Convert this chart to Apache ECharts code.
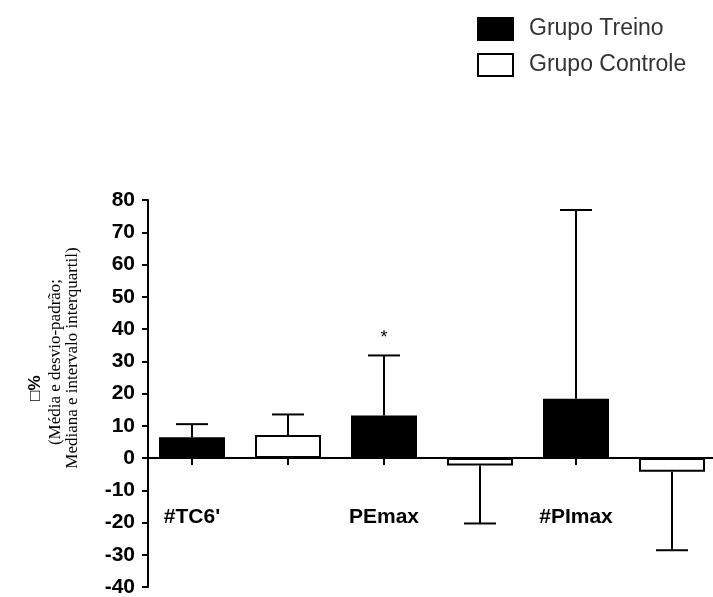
<!DOCTYPE html>
<html>
<head>
<meta charset="utf-8">
<script src="https://cdn.jsdelivr.net/npm/echarts@6/dist/echarts.min.js"></script>
<style>
  html, body { margin: 0; padding: 0; background: #fff; }
  #chart { width: 713px; height: 597px; }
</style>
</head>
<body>
<div id="chart"></div>
<script>
    // categorias (uma barra por posição)
    var categories = ["#TC6'", '', 'PEmax', '', '#PImax', ''];
    // médias / medianas
    var treino   = [6.4, '-', 13.2, '-', 18.4, '-'];
    var controle = ['-', 7.1, '-', -2.3, '-', -4.3];
    // fim das barras de erro
    var treinoErr   = [10.5, null, 31.8, null, 76.9, null];
    var controleErr = [null, 13.5, null, -20.3, null, -28.6];
    var signif = ['', '', '*', '', '', ''];
    var yTicks = { min: -40, max: 80, interval: 10 };

    function errData(means, ends) {
        var out = [];
        for (var i = 0; i < means.length; i++) {
            if (ends[i] === null) continue;
            out.push([i, means[i], ends[i]]);
        }
        return out;
    }

    function errRender(params, api) {
        var i = api.value(0);
        var p0 = api.coord([i, api.value(1)]);
        var p1 = api.coord([i, api.value(2)]);
        var half = 16;
        var star = signif[i];
        var kids = [
            { type: 'line', shape: { x1: p0[0], y1: p0[1], x2: p1[0], y2: p1[1] },
              style: { stroke: '#000', lineWidth: 2 } },
            { type: 'line', shape: { x1: p1[0] - half, y1: p1[1], x2: p1[0] + half, y2: p1[1] },
              style: { stroke: '#000', lineWidth: 2 } }
        ];
        if (star) {
            kids.push({ type: 'text', x: p1[0], y: p1[1] - 17,
                style: { text: star, fill: '#000', font: '18px "Liberation Sans", Arial',
                         align: 'center', verticalAlign: 'middle' } });
        }
        return { type: 'group', children: kids };
    }

    var serif = '17px "Liberation Serif", "Times New Roman", serif';
    var gridTop = 200, gridH = 387;
    // desloca o eixo x para a linha do zero (ticks e rótulos acompanham)
    var zeroOffset = -gridH * (0 - yTicks.min) / (yTicks.max - yTicks.min);

    var myChart = echarts.init(document.getElementById('chart'));
    myChart.setOption({
        animation: false,
        backgroundColor: '#fff',
        grid: { left: 144, top: gridTop, width: 576, height: gridH, outerBoundsMode: 'none' },
        legend: {
            data: ['Grupo Treino', 'Grupo Controle'],
            orient: 'vertical',
            left: 472, top: 12,
            itemWidth: 35, itemHeight: 22, itemGap: 12,
            icon: 'rect',
            textStyle: { fontSize: 23, color: '#333', padding: [0, 0, 0, 11],
                         fontFamily: '"Liberation Sans", Arial' }
        },
        graphic: [
            { type: 'text', x: 35, y: 388, rotation: Math.PI / 2,
              style: { text: '□%', font: 'bold 17px "Liberation Sans", Arial', fill: '#000',
                       align: 'center', verticalAlign: 'middle' } },
            { type: 'text', x: 56, y: 362, rotation: Math.PI / 2,
              style: { text: '(Média e desvio-padrão;', font: serif, fill: '#000',
                       align: 'center', verticalAlign: 'middle' } },
            { type: 'text', x: 73, y: 358, rotation: Math.PI / 2,
              style: { text: 'Mediana e intervalo interquartil)', font: serif, fill: '#000',
                       align: 'center', verticalAlign: 'middle' } }
        ],
        xAxis: {
            type: 'category',
            data: categories,
            position: 'bottom',
            offset: zeroOffset,
            axisLine: { onZero: false, lineStyle: { color: '#000', width: 2 } },
            axisTick: { show: true, alignWithLabel: true, interval: 0, length: 7,
                        lineStyle: { color: '#000', width: 2 } },
            axisLabel: { interval: 0, margin: 49, color: '#000', fontSize: 21, fontWeight: 'bold',
                         fontFamily: '"Liberation Sans", Arial' },
            splitLine: { show: false }
        },
        yAxis: {
            type: 'value',
            min: yTicks.min, max: yTicks.max, interval: yTicks.interval,
            offset: -4,
            axisLine: { show: true, lineStyle: { color: '#000', width: 2 } },
            axisTick: { show: true, length: 6, lineStyle: { color: '#000', width: 2 } },
            axisLabel: { margin: 13, color: '#000', fontSize: 21, fontWeight: 'bold',
                         fontFamily: '"Liberation Sans", Arial' },
            splitLine: { show: false }
        },
        series: [
            {
                name: 'Grupo Treino', type: 'bar', data: treino,
                barWidth: 66, barGap: '-100%',
                itemStyle: { color: '#000', borderColor: '#000', borderWidth: 2 }
            },
            {
                name: 'Grupo Controle', type: 'bar', data: controle,
                barWidth: 66, barGap: '-100%',
                itemStyle: { color: '#fff', borderColor: '#000', borderWidth: 2 }
            },
            {
                type: 'custom', renderItem: errRender, z: 5,
                data: errData(treino, treinoErr)
            },
            {
                type: 'custom', renderItem: errRender, z: 5,
                data: errData(controle, controleErr)
            }
        ]
    });
</script>
</body>
</html>
